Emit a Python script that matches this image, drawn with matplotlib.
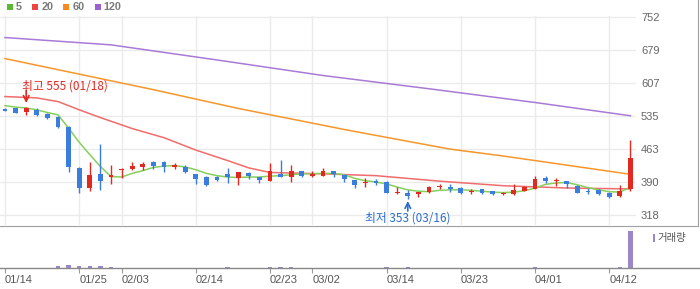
import matplotlib
matplotlib.use("Agg")
import matplotlib.pyplot as plt
from matplotlib.lines import Line2D
from matplotlib.patches import Rectangle
import numpy as np

plt.rcParams['font.family'] = ['Liberation Sans', 'Noto Sans CJK KR', 'DejaVu Sans']

# --- data ---
opens = [550, 551, 544, 547, 539, 533, 511, 420, 378, 408,
         402, 416, 418, 424, 434, 434, 423, 423, 408, 401,
         402, 408, 399, 409, 401, 393, 408, 400, 414, 404,
         404, 414, 406, 395, 388, 393, 390, 366, 367, 365,
         369, 380, 380, 378, 369, 375, 370, 363, 363, 371,
         375, 398, 392, 393, 382, 371, 373, 366, 360, 375]
highs = [553, 552, 555, 552, 541, 535, 512, 423, 434, 473,
         428, 420, 434, 434, 436, 436, 432, 428, 408, 404,
         404, 421, 412, 412, 401, 432, 439, 428, 414, 414,
         421, 414, 408, 395, 399, 397, 393, 379, 373, 369,
         382, 386, 385, 379, 375, 375, 370, 369, 386, 382,
         404, 404, 399, 393, 384, 377, 375, 368, 384, 482]
lows = [545, 542, 537, 535, 528, 509, 413, 367, 371, 373,
        386, 398, 416, 417, 418, 413, 419, 409, 386, 382,
        393, 389, 384, 396, 389, 393, 400, 391, 401, 402,
        404, 400, 391, 378, 380, 384, 366, 363, 353, 358,
        367, 375, 369, 365, 365, 363, 361, 361, 361, 371,
        375, 387, 382, 378, 367, 364, 362, 356, 358, 371]
closes = [546, 542, 551, 537, 531, 511, 422, 377, 406, 393,
          405, 418, 426, 430, 426, 423, 428, 413, 396, 384,
          395, 401, 412, 404, 395, 414, 400, 414, 404, 408,
          414, 408, 396, 384, 390, 387, 367, 368, 360, 369,
          379, 382, 375, 367, 371, 366, 363, 367, 373, 379,
          397, 393, 394, 385, 367, 369, 364, 357, 371, 443]
volumes = [5, 5, 5, 5, 5, 65, 90, 65, 65, 65,
           40, 5, 5, 5, 5, 5, 5, 5, 5, 5,
           5, 35, 5, 5, 5, 35, 35, 35, 5, 5,
           5, 5, 5, 5, 5, 5, 35, 5, 35, 5,
           5, 5, 5, 5, 5, 5, 5, 5, 5, 5,
           35, 5, 5, 5, 5, 5, 5, 5, 35, 1000]

ma5 = [557, 554, 552, 548, 542, 537, 508, 477, 450, 424,
       402, 401, 409, 415, 422, 425, 426, 423, 417, 409,
       404, 401, 400, 401, 401, 403, 404, 406, 408, 408,
       409, 409, 406, 398, 393, 390, 386, 379, 373, 370,
       369, 372, 373, 373, 372, 370, 368, 367, 368, 371,
       377, 385, 388, 389, 384, 378, 373, 369, 368, 379]
ma20_idx = [0, 3, 5, 7, 9, 12, 15, 18, 21, 23, 25, 30, 35, 41, 47, 53, 59]
ma20_val = [577, 574, 566, 548, 531, 507, 487, 460, 437, 421, 411, 408, 404, 392, 382, 377, 375]
ma60_idx = [0, 14, 22, 32, 35, 42, 47, 59]
ma60_val = [660, 592, 551, 505, 492, 462, 447, 407]
ma120_idx = [0, 10, 20, 30, 40, 50, 59]
ma120_val = [706, 690, 657, 623, 594, 564, 535]

tick_idx = [0, 7, 11, 18, 25, 29, 36, 43, 50, 57]
tick_labels = ['01/14', '01/25', '02/03', '02/14', '02/23', '03/02',
               '03/14', '03/23', '04/01', '04/12']
ytick_labels = ['318', '390', '463', '535', '607', '679', '752']

UP = '#e2291f'
DOWN = '#3a7ddd'
W, H = 700, 289
STEP = 10.6   # px per trading day
X0 = 5        # px of first candle

fig = plt.figure(figsize=(7, 2.89), dpi=100)
ax = fig.add_axes([0, 1 - 225 / H, 636 / W, 209 / H])
axv = fig.add_axes([0, 1 - 268 / H, 1, 42 / H])

# --- price panel ---
upp = 434 / 198.5
ax.set_ylim(318 - 10 * upp, 752 + 0.5 * upp)
ax.set_xlim(-X0 / STEP, (636 - X0) / STEP)
x = np.arange(len(closes))
for i in x:
    o, c = opens[i], closes[i]
    col = UP if c >= o else DOWN
    ax.vlines(i, lows[i], highs[i], color=col, lw=1.0, zorder=3)
    bot = min(o, c)
    h = max(abs(c - o), 1.6)
    ax.bar(i, h, bottom=bot, width=0.46, color=col, lw=0, zorder=3)

ax.plot(ma120_idx, ma120_val, color='#a77bd6', lw=1.1, zorder=2)
ax.plot(ma60_idx, ma60_val, color='#f7962a', lw=1.1, zorder=2)
ax.plot(ma20_idx, ma20_val, color='#f06c6c', lw=1.1, zorder=2)
ax.plot(x, ma5, color='#86cf5c', lw=1.1, zorder=2)

ax.set_yticks(np.linspace(318, 752, 7))
ax.set_yticklabels(ytick_labels)
ax.yaxis.tick_right()
ax.tick_params(axis='y', length=0, pad=3.6, labelsize=8, labelcolor='#666666')
ax.set_xticks(tick_idx)
ax.tick_params(axis='x', length=0, labelbottom=False)
ax.grid(True, color='#ebebeb', lw=1)
ax.set_axisbelow(True)
for s in ax.spines.values():
    s.set_visible(False)

def py(px):
    return 752 - (px - 16.5) * upp

# annotations
ax.annotate('', xy=(2, py(103)), xytext=(2, py(90)),
            arrowprops=dict(arrowstyle='->', lw=1.2, color=UP, shrinkA=0, shrinkB=0))
ax.text(1.6, py(86), '최고 555 (01/18)', color=UP, fontsize=8.5, ha='left', va='center',
        family=['Noto Sans CJK KR'])
ax.annotate('', xy=(38, py(201)), xytext=(38, py(211)),
            arrowprops=dict(arrowstyle='->', lw=1.2, color='#2b6cd0', shrinkA=0, shrinkB=0))
ax.text(38, py(218), '최저 353 (03/16)', color='#2b6cd0', fontsize=8.5, ha='center', va='center',
        family=['Noto Sans CJK KR'], clip_on=False)

# --- volume panel ---
axv.bar(x, volumes, width=0.42, color='#9b87c8', lw=0)
axv.set_ylim(0, 1000 * 42 / 36.7)
axv.set_xlim(-X0 / STEP, (700 - X0) / STEP)
axv.set_yticks([])
axv.set_xticks(tick_idx)
axv.set_xticklabels(tick_labels, ha='left')
axv.tick_params(axis='x', length=3.5, width=0.8, color='#999999', pad=1.5,
                labelsize=8, labelcolor='#555555')
for s in ['top', 'left', 'right']:
    axv.spines[s].set_visible(False)
axv.spines['bottom'].set_color('#888888')
axv.spines['bottom'].set_linewidth(1)

# borders
fig.add_artist(Line2D([0, 698 / W], [1 - 225.5 / H] * 2, color='#a0a0a0', lw=0.8))
fig.add_artist(Line2D([698 / W] * 2, [1 - 225.5 / H, 1], color='#a0a0a0', lw=0.8))

# top legend
leg = [('#5cb82e', '5', 6.7, 15.5), ('#ee4444', '20', 32.3, 41.2),
       ('#f6891f', '60', 63.3, 72.2), ('#9b5fd0', '120', 95, 103.8)]
for col, lab, sx, tx in leg:
    fig.add_artist(Rectangle((sx / W, 1 - 9.5 / H), 6 / W, 6 / H, color=col, lw=0))
    fig.text(tx / W, 1 - 6.5 / H, lab, fontsize=7.8, fontweight='bold', color='#7a7a7a',
             va='center', ha='left')

# volume legend
fig.add_artist(Rectangle((652.7 / W, 1 - 242 / H), 2.6 / W, 8 / H, color='#9b87c8', lw=0))
fig.text(657 / W, 1 - 238 / H, '거래량', fontsize=7.5, color='#555555', va='center', ha='left',
         family=['Noto Sans CJK KR'])

fig.savefig('out.png', dpi=100)
